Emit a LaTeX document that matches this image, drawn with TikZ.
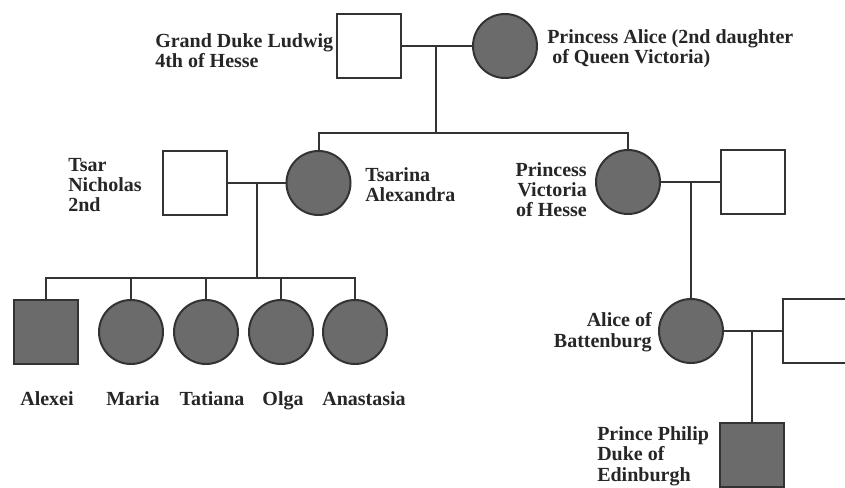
\documentclass[tikz,border=0pt]{standalone}
\usepackage{fontspec}
\setmainfont{Liberation Serif}
\begin{document}
\begin{tikzpicture}[x=0.75pt,y=-0.75pt,
  lw/.style={line width=1.5pt, draw=black!80},
  male/.style={lw, rectangle, minimum size=48pt, inner sep=0pt, fill=white},
  female/.style={lw, circle, minimum size=48pt, inner sep=0pt, fill=white},
  affected/.style={fill=black!58},
  link/.style={lw},
  lbl/.style={font=\fontsize{15pt}{15.3pt}\selectfont\bfseries, inner sep=0pt, text=black!85}]
\useasboundingbox (0,0) rectangle (845,488);
\fill[white] (0,0) rectangle (845,488);
% generation I
\node[male] (ludwig) at (368.5,46) {};
\node[female, affected] (alice) at (505,46) {};
% generation II
\node[male] (nicholas) at (194.5,183) {};
\node[female, affected] (alexandra) at (318.5,183) {};
\node[female, affected] (victoria) at (628,182) {};
\node[male] (vichusband) at (753,182) {};
% generation III
\node[male, affected] (alexei) at (46,332) {};
\node[female, affected] (maria) at (131,332) {};
\node[female, affected] (tatiana) at (206,332) {};
\node[female, affected] (olga) at (281,332) {};
\node[female, affected] (anastasia) at (355,332) {};
\node[female, affected] (aliceb) at (691,331) {};
\node[male] (alicehusband) at (815,331) {};
% generation IV
\node[male, affected] (philip) at (752,455) {};
% connectors
\draw[link] (ludwig.east) -- (alice.west);
\coordinate (m1) at (436,46);
\coordinate (sib1) at (436,133);
\draw[link] (m1) -- (sib1);
\draw[link] (alexandra.north) |- (sib1) -| (victoria.north);
\draw[link] (nicholas.east) -- (alexandra.west);
\coordinate (m2) at (257,183);
\coordinate (kids) at (257,278);
\draw[link] (m2) -- (kids);
\draw[link] (alexei.north) |- (kids) -| (anastasia.north);
\draw[link] (maria.north) -- (maria.north |- kids);
\draw[link] (tatiana.north) -- (tatiana.north |- kids);
\draw[link] (olga.north) -- (olga.north |- kids);
\draw[link] (victoria.east) -- (vichusband.west);
\coordinate (m3) at (aliceb.north |- victoria.east);
\draw[link] (m3) -- (aliceb.north);
\draw[link] (aliceb.east) -- (alicehusband.west);
\coordinate (m4) at (philip.north |- aliceb.east);
\draw[link] (m4) -- (philip.north);
% labels (base anchor = baseline of last line)
\node[lbl, align=left, anchor=base west] (lludwig) at (155,68) {Grand Duke Ludwig\\4th of Hesse};
\node[lbl, align=left, anchor=base west] (lalice) at (547,64) {Princess Alice (2nd daughter\\\hspace*{0.25em}of Queen Victoria)};
\node[lbl, align=left, anchor=base west] (lnicholas) at (68,212) {Tsar\\Nicholas\\2nd};
\node[lbl, align=left, anchor=base west] (lalexandra) at (365,202) {Tsarina\\Alexandra};
\node[lbl, align=right, anchor=base east] (lvictoria) at (587,217) {Princess\\Victoria\\of Hesse};
\node[lbl, align=right, anchor=base east] (laliceb) at (652,347) {Alice of\\Battenburg};
\node[lbl, align=left, anchor=base west] (lphilip) at (597,481) {Prince Philip\\Duke of\\Edinburgh};
\node[lbl, anchor=base] (lalexei) at (47,405) {Alexei};
\node[lbl, anchor=base] (lmaria) at (133,405) {Maria};
\node[lbl, anchor=base] (ltatiana) at (212,405) {Tatiana};
\node[lbl, anchor=base] (lolga) at (283,405) {Olga};
\node[lbl, anchor=base] (lanastasia) at (364,405) {Anastasia};
\end{tikzpicture}
\end{document}
